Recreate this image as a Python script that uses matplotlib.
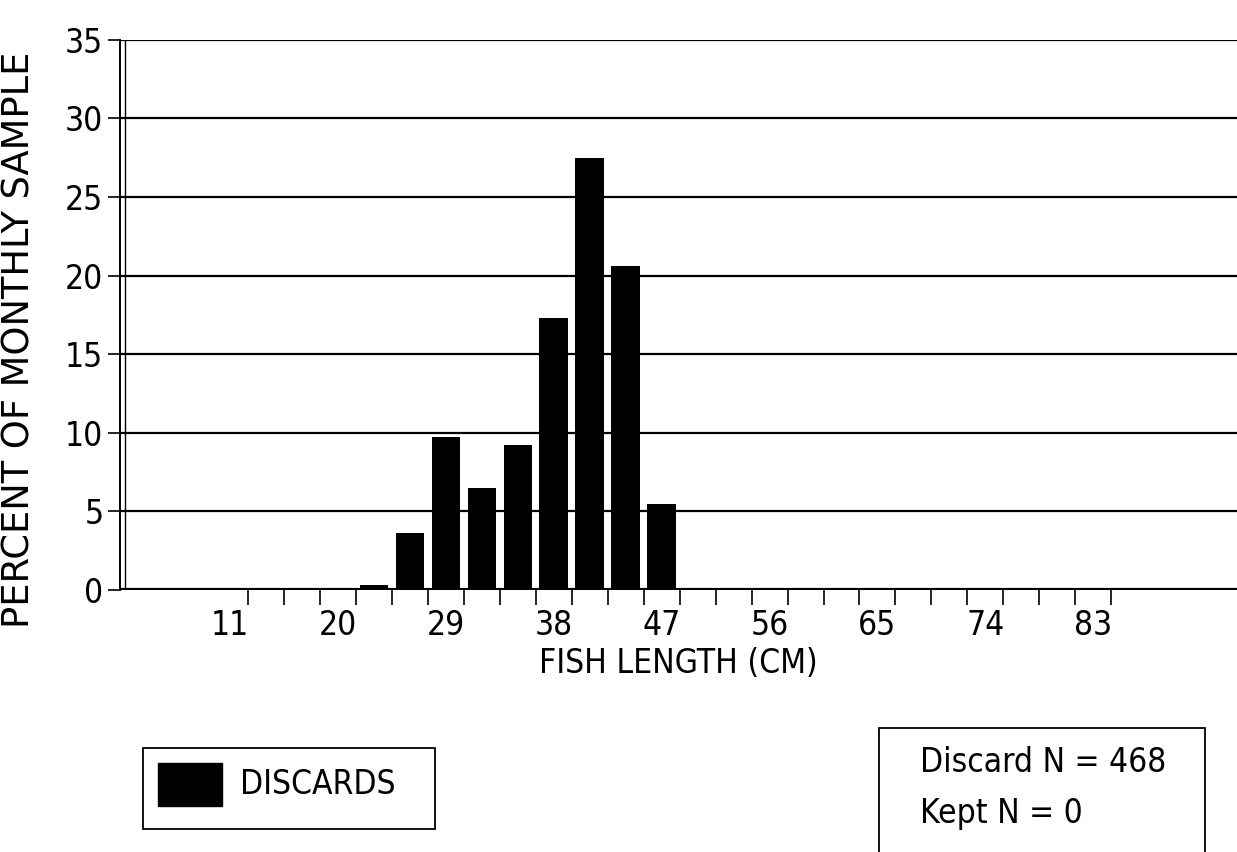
import numpy as np
import matplotlib
matplotlib.use("Agg")
import matplotlib.pyplot as plt
from matplotlib.patches import Rectangle

# length classes (cm) and percent of monthly sample
lengths = [23, 26, 29, 32, 35, 38, 41, 44, 47]
percent = [0.3, 3.6, 9.7, 6.5, 9.25, 17.3, 27.5, 20.6, 5.45]

x_labels = [11, 20, 29, 38, 47, 56, 65, 74, 83]
bin_edges = np.arange(12.5, 85, 3)
y_ticks = [0, 5, 10, 15, 20, 25, 30, 35]

# condensed face for the numbers and box texts
cond = dict(family='DejaVu Sans', stretch='condensed', fontsize=24)

fig = plt.figure(figsize=(12.37, 8.52), dpi=100)
ax = fig.add_axes([0.097, 0.3075, 0.903, 0.646])

ax.set_xlim(1.8, 95)
ax.set_ylim(0, 35)

# gridlines
for y in y_ticks[1:]:
    ax.axhline(y, color='black', lw=1.6, zorder=1)
ax.axhline(0, color='black', lw=3, zorder=3)
ax.axvline(2.25, color='black', lw=1.0, zorder=1)

ax.bar(lengths, percent, width=2.4, color='black', zorder=4)

# axes styling
for s in ['top', 'right', 'bottom']:
    ax.spines[s].set_visible(False)
ax.spines['left'].set_linewidth(1.4)

ax.set_yticks(y_ticks)
ax.set_yticklabels([str(v) for v in y_ticks], **cond)
ax.tick_params(axis='y', length=9, width=1.2, pad=3)

ax.set_xticks(x_labels)
ax.set_xticklabels([str(v) for v in x_labels], **cond)
ax.set_xticks(bin_edges, minor=True)
ax.tick_params(axis='x', which='major', length=0, pad=14)
ax.tick_params(axis='x', which='minor', length=11, width=1.2, direction='out')

ax.set_xlabel('FISH LENGTH (CM)', labelpad=3, **cond)
ax.set_ylabel('PERCENT OF MONTHLY SAMPLE', family='DejaVu Sans', fontsize=26.5)
ax.yaxis.set_label_coords(-0.074, 0.455)

# legend box
fig.patches.append(Rectangle((143 / 1237, 1 - 829 / 852), 292 / 1237, 81 / 852,
                             transform=fig.transFigure, fill=False,
                             edgecolor='black', lw=1.3))
fig.patches.append(Rectangle((158 / 1237, 1 - 806 / 852), 64 / 1237, 43 / 852,
                             transform=fig.transFigure, facecolor='black',
                             edgecolor='black'))
fig.text(240 / 1237, 1 - 784 / 852, 'DISCARDS', va='center', ha='left', **cond)

# sample size box
fig.patches.append(Rectangle((879 / 1237, -0.05), 326 / 1237, 1 - 728 / 852 + 0.05,
                             transform=fig.transFigure, fill=False,
                             edgecolor='black', lw=1.3))
fig.text(920 / 1237, 1 - 763 / 852, 'Discard N = 468', va='center', ha='left', **cond)
fig.text(920 / 1237, 1 - 813 / 852, 'Kept N = 0', va='center', ha='left', **cond)

fig.savefig('out.png', dpi=100)
